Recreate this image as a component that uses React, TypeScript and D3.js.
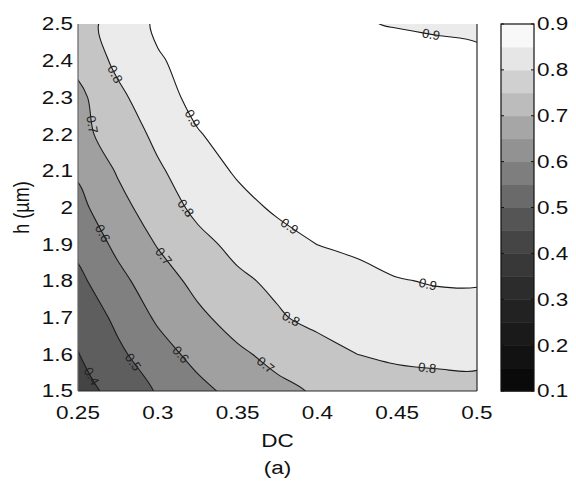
import React, { useEffect, useRef } from 'react';
import * as d3 from 'd3';

// grid the surface was read on (DC across, h in µm up)
const dcValues = [0.25, 0.275, 0.3, 0.325, 0.35, 0.375, 0.4, 0.425, 0.45, 0.475, 0.5];
const hValues = [1.5, 1.6, 1.7, 1.8, 1.9, 2.0, 2.1, 2.2, 2.3, 2.4, 2.5];

// one row per h value, bottom (1.5) to top (2.5)
const efficiency = [
  [0.36, 0.433, 0.508, 0.574, 0.629, 0.677, 0.71, 0.735, 0.748, 0.754, 0.755],
  [0.397, 0.48, 0.561, 0.629, 0.684, 0.727, 0.764, 0.8, 0.82, 0.83, 0.835],
  [0.427, 0.523, 0.614, 0.681, 0.7375, 0.79, 0.825, 0.85, 0.868, 0.877, 0.876],
  [0.477, 0.573, 0.656, 0.726, 0.784, 0.818, 0.843, 0.872, 0.897, 0.904, 0.905],
  [0.525, 0.623, 0.706, 0.775, 0.824, 0.862, 0.901, 0.918, 0.928, 0.932, 0.933],
  [0.574, 0.667, 0.753, 0.821, 0.868, 0.915, 0.935, 0.948, 0.955, 0.958, 0.958],
  [0.612, 0.709, 0.7875, 0.851, 0.912, 0.94, 0.958, 0.968, 0.973, 0.975, 0.975],
  [0.67, 0.745, 0.821, 0.894, 0.94, 0.962, 0.975, 0.98, 0.982, 0.982, 0.98],
  [0.675, 0.779, 0.858, 0.93, 0.955, 0.967, 0.972, 0.972, 0.968, 0.962, 0.958],
  [0.727, 0.822, 0.892, 0.93, 0.948, 0.955, 0.955, 0.945, 0.93, 0.918, 0.91],
  [0.757, 0.84, 0.915, 0.93, 0.935, 0.932, 0.922, 0.905, 0.896, 0.892, 0.89],
];

const levels = [0.1, 0.2, 0.3, 0.4, 0.5, 0.6, 0.7, 0.8, 0.9];
const levelFills = ['#111', '#2a2a2a', '#444', '#5e5e5e', '#808080', '#a0a0a0', '#c5c5c5', '#ebebeb', '#ffffff'];

const barSteps = [0.1, 0.15, 0.2, 0.25, 0.3, 0.35, 0.4, 0.45, 0.5, 0.55, 0.6, 0.65, 0.7, 0.75, 0.8, 0.85];
const barFills = ['#0a0a0a', '#121212', '#1a1a1a', '#222', '#2c2c2c', '#383838', '#454545', '#555',
  '#6a6a6a', '#7e7e7e', '#929292', '#a6a6a6', '#bcbcbc', '#d0d0d0', '#e6e6e6', '#f8f8f8'];

const xTicks = [0.25, 0.3, 0.35, 0.4, 0.45, 0.5];
const yTicks = [1.5, 1.6, 1.7, 1.8, 1.9, 2.0, 2.1, 2.2, 2.3, 2.4, 2.5];
const barTicks = [0.1, 0.2, 0.3, 0.4, 0.5, 0.6, 0.7, 0.8, 0.9];

// clabel spots: [level, DC, h]
const contourLabels = [
  [0.8, 0.272, 2.361], [0.9, 0.32, 2.238], [0.7, 0.2575, 2.225], [0.8, 0.316, 1.993],
  [0.6, 0.2657, 1.93], [0.9, 0.381, 1.939], [0.7, 0.303, 1.865], [0.9, 0.4706, 2.456],
  [0.9, 0.4687, 1.783], [0.8, 0.383, 1.693], [0.5, 0.2845, 1.579], [0.6, 0.3127, 1.593],
  [0.7, 0.366, 1.563], [0.8, 0.4687, 1.557], [0.4, 0.2563, 1.535],
];

const fmt = (v: number) => `${+v.toFixed(2)}`;
const FONT = '"Liberation Sans", Arial, sans-serif';

const App = () => {
  const svgRef = useRef<SVGSVGElement>(null);

  useEffect(() => {
    const svg = d3.select(svgRef.current);
    svg.selectAll('*').remove();

    const left = 78, right = 477, top = 24, bottom = 391;
    const x = d3.scaleLinear().domain([0.25, 0.5]).range([left, right]);
    const y = d3.scaleLinear().domain([1.5, 2.5]).range([bottom, top]);

    const nx = dcValues.length, ny = hValues.length;
    const gx = d3.scaleLinear().domain([0.5, nx - 0.5]).range([x(dcValues[0]), x(dcValues[nx - 1])]);
    const gy = d3.scaleLinear().domain([0.5, ny - 0.5]).range([y(hValues[0]), y(hValues[ny - 1])]);

    const polys = d3.contours().size([nx, ny]).thresholds(levels)(efficiency.flat());
    const ringLine = d3.line().curve(d3.curveCatmullRomClosed.alpha(0.5));
    const toPx = (ring: number[][]) => ring.map(([a, b]) => [gx(a), gy(b)] as [number, number]);
    const pathOf = (mp: any) =>
      mp.coordinates.map((poly: any) => poly.map((ring: any) => ringLine(toPx(ring).slice(0, -1))).join('')).join('');

    svg.append('defs').append('clipPath').attr('id', 'plot-clip')
      .append('rect').attr('x', left).attr('y', top).attr('width', right - left).attr('height', bottom - top);

    const plot = svg.append('g').attr('clip-path', 'url(#plot-clip)');
    plot.selectAll('path.band').data(polys).enter().append('path')
      .attr('class', 'band')
      .attr('d', pathOf)
      .attr('fill', (d, i) => levelFills[i])
      .attr('fill-rule', 'evenodd');
    plot.selectAll('path.iso').data(polys.filter(p => p.value >= 0.3)).enter().append('path')
      .attr('class', 'iso')
      .attr('d', pathOf)
      .attr('fill', 'none')
      .attr('stroke', '#1a1a1a')
      .attr('stroke-width', 1.1);

    // contour labels, rotated along the nearest isoline segment
    contourLabels.forEach(([lv, dc, h]) => {
      const poly = polys.find(p => Math.abs(p.value - lv) < 1e-6);
      if (!poly) return;
      const px = x(dc), py = y(h);
      let best = { d: Infinity, x: px, y: py, a: 0 };
      poly.coordinates.forEach((pg: any) => pg.forEach((ring: any) => {
        const pts = toPx(ring);
        for (let i = 0; i < pts.length - 1; i++) {
          const [x0, y0] = pts[i], [x1, y1] = pts[i + 1];
          const dx = x1 - x0, dy = y1 - y0;
          const len2 = dx * dx + dy * dy;
          if (len2 === 0) continue;
          const t = Math.max(0, Math.min(1, ((px - x0) * dx + (py - y0) * dy) / len2));
          const qx = x0 + t * dx, qy = y0 + t * dy;
          const d = Math.hypot(px - qx, py - qy);
          if (d < best.d) best = { d, x: qx, y: qy, a: Math.atan2(dy, dx) * 180 / Math.PI };
        }
      }));
      let a = best.a;
      if (a > 90) a -= 180;
      if (a <= -90) a += 180;
      svg.append('text')
        .attr('transform', `translate(${best.x},${best.y}) rotate(${a})`)
        .attr('text-anchor', 'middle')
        .attr('dy', '0.35em')
        .attr('font-family', FONT)
        .attr('font-size', 13)
        .attr('fill', '#222')
        .text(fmt(lv));
    });

    // axes frame
    const frame = svg.append('g').attr('stroke', '#2a2a2a').attr('stroke-width', 1.2);
    frame.append('line').attr('x1', left).attr('x2', right).attr('y1', bottom).attr('y2', bottom);
    frame.append('line').attr('x1', right).attr('x2', right).attr('y1', top).attr('y2', bottom);
    frame.append('line').attr('x1', left).attr('x2', left).attr('y1', top).attr('y2', bottom).attr('stroke', '#666');

    const label = (txt: string, tx: number, ty: number, anchor: string, size = 18) =>
      svg.append('text')
        .attr('transform', `translate(${tx},${ty}) scale(1.25,1)`)
        .attr('text-anchor', anchor)
        .attr('dy', '0.36em')
        .attr('font-family', FONT)
        .attr('font-size', size)
        .attr('fill', '#111')
        .text(txt);

    xTicks.forEach(v => label(fmt(v), x(v), 413, 'middle'));
    yTicks.forEach(v => label(fmt(v), 73, y(v), 'end'));
    label('DC', x(0.375), 441, 'middle');
    label('(a)', x(0.375), 468, 'middle');

    svg.append('text')
      .attr('transform', `translate(21,${(top + bottom) / 2}) rotate(-90) scale(1,1.25)`)
      .attr('text-anchor', 'middle')
      .attr('dy', '0.36em')
      .attr('font-family', FONT)
      .attr('font-size', 18)
      .attr('fill', '#111')
      .text('h (µm)');

    // colorbar
    const bx = 501, bw = 33;
    const by = d3.scaleLinear().domain([0.1, 0.9]).range([bottom, top]);
    const bar = svg.append('g');
    bar.selectAll('rect').data(barSteps).enter().append('rect')
      .attr('x', bx).attr('width', bw)
      .attr('y', d => by(d + 0.05))
      .attr('height', d => by(d) - by(d + 0.05) + 0.5)
      .attr('fill', (d, i) => barFills[i]);
    bar.append('rect').attr('x', bx).attr('y', top).attr('width', bw).attr('height', bottom - top)
      .attr('fill', 'none').attr('stroke', '#111').attr('stroke-width', 1.2);
    barTicks.forEach(v => {
      bar.append('line').attr('x1', bx).attr('x2', bx + 3).attr('y1', by(v)).attr('y2', by(v)).attr('stroke', '#111');
      bar.append('line').attr('x1', bx + bw - 3).attr('x2', bx + bw).attr('y1', by(v)).attr('y2', by(v)).attr('stroke', '#111');
      label(fmt(v), 537, by(v), 'start');
    });
  });

  return (
    <div style={{ position: 'absolute', left: 0, top: 0 }}>
      <svg ref={svgRef} width={576} height={485} style={{ display: 'block', background: '#fff' }}></svg>
    </div>
  );
};

export default App;
